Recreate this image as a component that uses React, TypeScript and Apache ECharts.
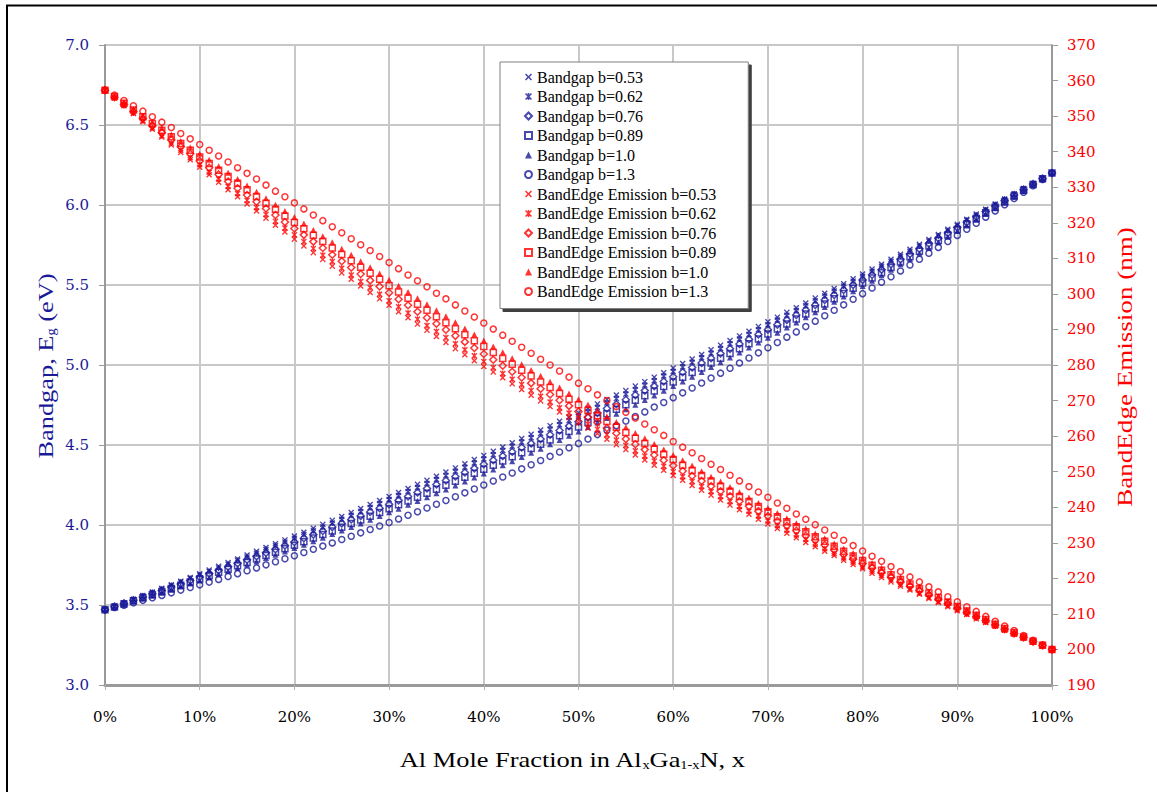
import React, { useEffect, useRef } from "react";
import * as echarts from "echarts";

// Al mole fraction (%)
const xPercent = [
  0, 1, 2, 3, 4, 5, 6, 7, 8, 9, 10, 11, 12, 13, 14, 15, 16, 17, 18, 19, 20,
  21, 22, 23, 24, 25, 26, 27, 28, 29, 30, 31, 32, 33, 34, 35, 36, 37, 38, 39, 40,
  41, 42, 43, 44, 45, 46, 47, 48, 49, 50, 51, 52, 53, 54, 55, 56, 57, 58, 59, 60,
  61, 62, 63, 64, 65, 66, 67, 68, 69, 70, 71, 72, 73, 74, 75, 76, 77, 78, 79, 80,
  81, 82, 83, 84, 85, 86, 87, 88, 89, 90, 91, 92, 93, 94, 95, 96, 97, 98, 99, 100,
];

// Bandgap (eV)
const eg053 = [3.470,3.492,3.514,3.536,3.559,3.581,3.604,3.627,3.649,3.672,
3.695,3.718,3.742,3.765,3.788,3.812,3.836,3.859,3.883,3.907,
3.931,3.955,3.980,4.004,4.029,4.053,4.078,4.103,4.128,4.153,
4.178,4.203,4.228,4.254,4.279,4.305,4.331,4.357,4.383,4.409,
4.435,4.461,4.487,4.514,4.541,4.567,4.594,4.621,4.648,4.675,
4.702,4.730,4.757,4.785,4.813,4.840,4.868,4.896,4.924,4.952,
4.981,5.009,5.038,5.066,5.095,5.124,5.153,5.182,5.211,5.240,
5.270,5.299,5.329,5.358,5.388,5.418,5.448,5.478,5.508,5.539,
5.569,5.600,5.630,5.661,5.692,5.723,5.754,5.785,5.816,5.848,
5.879,5.911,5.943,5.974,6.006,6.038,6.070,6.103,6.135,6.167,6.200];

const eg062 = [3.470,3.491,3.512,3.534,3.555,3.577,3.599,3.621,3.643,3.665,
3.687,3.710,3.732,3.755,3.778,3.800,3.823,3.847,3.870,3.893,
3.917,3.940,3.964,3.988,4.012,4.036,4.061,4.085,4.109,4.134,
4.159,4.184,4.209,4.234,4.259,4.284,4.310,4.336,4.361,4.387,
4.413,4.439,4.466,4.492,4.518,4.545,4.572,4.599,4.626,4.653,
4.680,4.707,4.735,4.762,4.790,4.818,4.846,4.874,4.902,4.931,
4.959,4.988,5.017,5.045,5.074,5.103,5.133,5.162,5.191,5.221,
5.251,5.281,5.311,5.341,5.371,5.401,5.432,5.462,5.493,5.524,
5.555,5.586,5.617,5.648,5.680,5.711,5.743,5.775,5.807,5.839,
5.871,5.904,5.936,5.969,6.001,6.034,6.067,6.100,6.133,6.167,6.200];

const eg076 = [3.470,3.490,3.510,3.530,3.550,3.570,3.591,3.612,3.632,3.653,
3.675,3.696,3.717,3.739,3.761,3.783,3.805,3.827,3.849,3.872,
3.894,3.917,3.940,3.963,3.987,4.010,4.034,4.057,4.081,4.105,
4.129,4.154,4.178,4.203,4.228,4.253,4.278,4.303,4.328,4.354,
4.380,4.405,4.431,4.458,4.484,4.510,4.537,4.564,4.591,4.618,
4.645,4.672,4.700,4.728,4.755,4.783,4.812,4.840,4.868,4.897,
4.926,4.955,4.984,5.013,5.042,5.072,5.101,5.131,5.161,5.191,
5.221,5.252,5.282,5.313,5.344,5.375,5.406,5.438,5.469,5.501,
5.532,5.564,5.596,5.629,5.661,5.694,5.726,5.759,5.792,5.825,
5.859,5.892,5.926,5.959,5.993,6.027,6.062,6.096,6.131,6.165,6.200];

const eg089 = [3.470,3.488,3.507,3.526,3.545,3.564,3.584,3.603,3.623,3.643,
3.663,3.683,3.704,3.724,3.745,3.766,3.787,3.809,3.830,3.852,
3.874,3.896,3.918,3.940,3.963,3.986,4.009,4.032,4.055,4.078,
4.102,4.126,4.150,4.174,4.198,4.223,4.248,4.273,4.298,4.323,
4.348,4.374,4.400,4.426,4.452,4.478,4.505,4.531,4.558,4.585,
4.613,4.640,4.667,4.695,4.723,4.751,4.780,4.808,4.837,4.865,
4.894,4.924,4.953,4.982,5.012,5.042,5.072,5.102,5.133,5.163,
5.194,5.225,5.256,5.287,5.319,5.351,5.382,5.414,5.447,5.479,
5.512,5.544,5.577,5.610,5.644,5.677,5.711,5.744,5.778,5.813,
5.847,5.881,5.916,5.951,5.986,6.021,6.057,6.092,6.128,6.164,6.200];

const eg100 = [3.470,3.487,3.505,3.523,3.541,3.559,3.577,3.596,3.615,3.634,
3.653,3.672,3.692,3.712,3.732,3.752,3.772,3.793,3.814,3.835,
3.856,3.877,3.899,3.921,3.943,3.965,3.987,4.010,4.033,4.056,
4.079,4.102,4.126,4.150,4.174,4.198,4.222,4.247,4.272,4.297,
4.322,4.347,4.373,4.399,4.425,4.451,4.477,4.504,4.531,4.558,
4.585,4.612,4.640,4.668,4.696,4.724,4.752,4.781,4.810,4.839,
4.868,4.897,4.927,4.957,4.987,5.017,5.047,5.078,5.109,5.140,
5.171,5.202,5.234,5.266,5.298,5.330,5.362,5.395,5.428,5.461,
5.494,5.527,5.561,5.595,5.629,5.663,5.697,5.732,5.767,5.802,
5.837,5.872,5.908,5.944,5.980,6.016,6.052,6.089,6.126,6.163,6.200];

const eg130 = [3.470,3.484,3.499,3.514,3.529,3.545,3.560,3.576,3.593,3.609,
3.626,3.643,3.660,3.678,3.696,3.714,3.732,3.751,3.770,3.789,
3.808,3.828,3.848,3.868,3.888,3.909,3.930,3.951,3.972,3.994,
4.016,4.038,4.061,4.083,4.106,4.130,4.153,4.177,4.201,4.225,
4.250,4.275,4.300,4.325,4.351,4.377,4.403,4.429,4.456,4.483,
4.510,4.537,4.565,4.593,4.621,4.650,4.678,4.707,4.737,4.766,
4.796,4.826,4.856,4.887,4.918,4.949,4.980,5.012,5.044,5.076,
5.108,5.141,5.174,5.207,5.240,5.274,5.308,5.342,5.376,5.411,
5.446,5.481,5.517,5.552,5.588,5.625,5.661,5.698,5.735,5.772,
5.810,5.848,5.886,5.924,5.963,6.002,6.041,6.080,6.120,6.160,6.200];

// Band-edge emission (nm)
const em053 = [357.3,355.1,352.9,350.7,348.4,346.3,344.1,341.9,339.8,337.7,
335.6,333.5,331.4,329.3,327.3,325.3,323.3,321.3,319.3,317.4,
315.4,313.5,311.6,309.7,307.8,305.9,304.1,302.2,300.4,298.6,
296.8,295.0,293.3,291.5,289.8,288.0,286.3,284.6,282.9,281.2,
279.6,278.0,276.4,274.7,273.1,271.5,269.9,268.3,266.8,265.2,
263.7,262.2,260.7,259.1,257.6,256.2,254.7,253.3,251.8,250.4,
248.9,247.6,246.1,244.8,243.4,242.0,240.6,239.3,238.0,236.6,
235.3,234.0,232.7,231.4,230.1,228.9,227.6,226.4,225.1,223.9,
222.7,221.4,220.2,219.0,217.8,216.7,215.5,214.3,213.2,212.0,
210.9,209.8,208.6,207.6,206.5,205.4,204.3,203.2,202.1,201.1,200.0];

const em062 = [357.3,355.2,353.1,350.9,348.8,346.7,344.5,342.4,340.4,338.3,
336.3,334.2,332.3,330.2,328.2,326.3,324.3,322.3,320.4,318.5,
316.6,314.7,312.8,310.9,309.1,307.2,305.3,303.5,301.8,299.9,
298.1,296.4,294.6,292.9,291.1,289.4,287.7,286.0,284.3,282.6,
281.0,279.3,277.6,276.0,274.5,272.8,271.2,269.6,268.0,266.5,
265.0,263.4,261.9,260.4,258.9,257.4,255.9,254.4,253.0,251.5,
250.0,248.6,247.2,245.8,244.4,243.0,241.6,240.2,238.9,237.5,
236.1,234.8,233.5,232.2,230.9,229.6,228.3,227.0,225.7,224.5,
223.2,222.0,220.8,219.5,218.3,217.1,215.9,214.7,213.5,212.4,
211.2,210.0,208.9,207.7,206.6,205.5,204.4,203.3,202.2,201.1,200.0];

const em076 = [357.3,355.3,353.3,351.3,349.3,347.3,345.3,343.3,341.4,339.4,
337.4,335.5,333.6,331.6,329.7,327.8,325.9,324.0,322.2,320.2,
318.4,316.6,314.7,312.9,311.0,309.2,307.4,305.6,303.8,302.1,
300.3,298.5,296.8,295.0,293.3,291.6,289.9,288.2,286.5,284.8,
283.1,281.5,279.8,278.1,276.5,274.9,273.3,271.7,270.1,268.5,
266.9,265.4,263.8,262.3,260.8,259.2,257.7,256.2,254.7,253.2,
251.7,250.2,248.8,247.4,245.9,244.5,243.1,241.7,240.3,238.9,
237.5,236.1,234.8,233.4,232.0,230.7,229.4,228.0,226.7,225.4,
224.1,222.9,221.6,220.3,219.0,217.8,216.6,215.3,214.1,212.9,
211.6,210.4,209.2,208.1,206.9,205.7,204.5,203.4,202.2,201.1,200.0];

const em089 = [357.3,355.5,353.6,351.7,349.8,347.9,346.0,344.2,342.3,340.4,
338.5,336.7,334.8,333.0,331.1,329.3,327.4,325.5,323.8,321.9,
320.1,318.3,316.5,314.7,312.9,311.1,309.3,307.5,305.8,304.1,
302.3,300.5,298.8,297.1,295.4,293.6,291.9,290.2,288.5,286.8,
285.2,283.5,281.8,280.2,278.5,276.9,275.2,273.7,272.0,270.4,
268.8,267.2,265.7,264.1,262.5,261.0,259.4,257.9,256.4,254.9,
253.4,251.8,250.3,248.9,247.4,245.9,244.5,243.0,241.6,240.2,
238.7,237.3,235.9,234.5,233.1,231.7,230.4,229.0,227.6,226.3,
225.0,223.7,222.3,221.0,219.7,218.4,217.1,215.9,214.6,213.3,
212.1,210.8,209.6,208.4,207.1,205.9,204.7,203.5,202.3,201.2,200.0];

const em100 = [357.3,355.6,353.8,352.0,350.2,348.4,346.7,344.8,343.0,341.2,
339.4,337.7,335.9,334.1,332.3,330.5,328.7,326.9,325.1,323.3,
321.6,319.8,318.0,316.2,314.5,312.7,311.0,309.2,307.5,305.7,
304.0,302.3,300.5,298.8,297.1,295.4,293.7,292.0,290.3,288.6,
286.9,285.2,283.6,281.9,280.2,278.6,277.0,275.3,273.7,272.0,
270.4,268.9,267.2,265.6,264.0,262.5,260.9,259.4,257.8,256.2,
254.7,253.2,251.7,250.1,248.6,247.2,245.7,244.2,242.7,241.2,
239.8,238.4,236.9,235.5,234.0,232.6,231.3,229.8,228.4,227.1,
225.7,224.3,223.0,221.6,220.3,219.0,217.7,216.3,215.0,213.7,
212.4,211.2,209.9,208.6,207.4,206.1,204.9,203.6,202.4,201.2,200.0];

const em130 = [357.3,355.9,354.4,352.9,351.4,349.8,348.3,346.8,345.1,343.6,
342.0,340.4,338.8,337.1,335.5,333.9,332.3,330.6,328.9,327.3,
325.6,323.9,322.2,320.6,318.9,317.2,315.5,313.8,312.2,310.5,
308.8,307.1,305.3,303.7,302.0,300.2,298.6,296.9,295.2,293.5,
291.8,290.1,288.4,286.7,285.0,283.3,281.6,280.0,278.3,276.6,
274.9,273.3,271.6,270.0,268.3,266.7,265.1,263.4,261.8,260.2,
258.5,256.9,255.3,253.7,252.1,250.6,249.0,247.4,245.8,244.3,
242.8,241.2,239.7,238.1,236.6,235.1,233.6,232.1,230.7,229.2,
227.7,226.2,224.8,223.3,221.9,220.4,219.0,217.6,216.2,214.8,
213.4,212.0,210.7,209.3,207.9,206.6,205.3,203.9,202.6,201.3,200.0];

const bowingLabels = ["0.53", "0.62", "0.76", "0.89", "1.0", "1.3"];
const bandgapSeries = [eg053, eg062, eg076, eg089, eg100, eg130];
const emissionSeries = [em053, em062, em076, em089, em100, em130];

const BLUE = "#1a1a98";
const RED = "#ff0000";
const SERIF = "Liberation Serif";
const TICKFONT = "DejaVu Serif";

const X_PATH =
  "path://M0,1.6L1.6,0L5,3.4L8.4,0L10,1.6L6.6,5L10,8.4L8.4,10L5,6.6L1.6,10L0,8.4L3.4,5Z";
const AST_PATH =
  "path://M0,1.6L1.6,0L5,3.4L8.4,0L10,1.6L6.6,5L10,8.4L8.4,10L5,6.6L1.6,10L0,8.4L3.4,5ZM3.9,0L6.1,0L6.1,10L3.9,10Z";

const markerStyles = [
  { symbol: X_PATH, size: 6, hollow: false },
  { symbol: AST_PATH, size: 6, hollow: false },
  { symbol: "diamond", size: 7, hollow: true },
  { symbol: "rect", size: 6, hollow: true },
  { symbol: "triangle", size: 6, hollow: false },
  { symbol: "circle", size: 6, hollow: true },
];

function makeSeries(name: string, ys: number[], color: string, axis: number, m: any) {
  return {
    type: "scatter",
    name,
    yAxisIndex: axis,
    symbol: m.symbol,
    symbolSize: m.size,
    itemStyle: m.hollow
      ? { color: "rgba(255,255,255,0)", borderColor: color, borderWidth: 1.5 }
      : { color },
    data: xPercent.map((x, i) => [x, ys[i]]),
    silent: true,
    emphasis: { disabled: true },
  };
}

export default function App() {
  const ref = useRef<HTMLDivElement>(null);

  useEffect(() => {
    if (!ref.current) return;
    const chart = echarts.init(ref.current, undefined, { renderer: "svg" });

    const series: any[] = [];
    const names: string[] = [];
    bowingLabels.forEach((b, i) => {
      const n = `Bandgap b=${b}`;
      names.push(n);
      series.push(makeSeries(n, bandgapSeries[i], BLUE, 0, markerStyles[i]));
    });
    bowingLabels.forEach((b, i) => {
      const n = `BandEdge Emission b=${b}`;
      names.push(n);
      series.push(makeSeries(n, emissionSeries[i], RED, 1, markerStyles[i]));
    });

    chart.setOption({
      animation: false,
      backgroundColor: "#ffffff",
      textStyle: { fontFamily: SERIF },
      grid: { left: 105, right: 105, top: 45, bottom: 107, containLabel: false },
      xAxis: {
        type: "value",
        min: 0,
        max: 100,
        interval: 10,
        axisLine: { show: true, onZero: false, lineStyle: { color: "#9a9a9a", width: 3 } },
        axisTick: { show: true, length: 5, lineStyle: { color: "#b0b0b0" } },
        axisLabel: {
          formatter: "{value}%",
          color: "#000",
          fontFamily: TICKFONT,
          fontSize: 15,
          margin: 24,
        },
        splitLine: { show: true, lineStyle: { color: "#c8c8c8", width: 2 } },
      },
      yAxis: [
        {
          type: "value",
          min: 3,
          max: 7,
          interval: 0.5,
          position: "left",
          axisLine: { show: true, lineStyle: { color: "#9a9a9a", width: 2 } },
          axisTick: { show: true, length: 6, lineStyle: { color: "#9a9a9a" } },
          axisLabel: {
            color: BLUE,
            fontFamily: TICKFONT,
            fontSize: 15,
            margin: 16,
            formatter: (v: number) => v.toFixed(1),
          },
          splitLine: { show: true, lineStyle: { color: "#c8c8c8", width: 2 } },
        },
        {
          type: "value",
          min: 190,
          max: 370,
          interval: 10,
          position: "right",
          axisLine: { show: true, lineStyle: { color: "#8a8a8a", width: 1.5 } },
          axisTick: { show: true, length: 6, lineStyle: { color: "#9a9a9a" } },
          axisLabel: {
            color: RED,
            fontFamily: TICKFONT,
            fontSize: 15,
            margin: 15,
          },
          splitLine: { show: false },
        },
      ],
      legend: {
        orient: "vertical",
        left: 500,
        top: 62,
        data: names,
        selectedMode: false,
        backgroundColor: "#ffffff",
        borderColor: "#808080",
        borderWidth: 1,
        shadowColor: "#404040",
        shadowOffsetX: 3,
        shadowOffsetY: 3,
        shadowBlur: 0,
        padding: [7, 32, 9, 24],
        itemGap: 3.5,
        itemWidth: 7,
        itemHeight: 7,
        textStyle: { fontFamily: SERIF, fontSize: 16, color: "#000" },
      },
      graphic: [
        {
          type: "rect",
          silent: true,
          z: 100,
          shape: { x: 7, y: 5.5, width: 1300, height: 900 },
          style: { fill: "none", stroke: "#000", lineWidth: 2 },
        },
        {
          type: "text",
          x: 572,
          y: 759,
          scaleX: 1.2,
          silent: true,
          style: {
            text: "{a|Al Mole Fraction in Al}{s|x}{a|Ga}{s|1-x}{a|N, x}",
            align: "center",
            verticalAlign: "middle",
            rich: {
              a: { fontFamily: SERIF, fontSize: 22, fill: "#000", lineHeight: 24 },
              s: { fontFamily: SERIF, fontSize: 12, fill: "#000", lineHeight: 8, verticalAlign: "bottom" },
            },
          },
        },
        {
          type: "text",
          x: 45,
          y: 366,
          rotation: Math.PI / 2,
          scaleX: 1.2,
          silent: true,
          style: {
            text: "{a|Bandgap, E}{s|g}{a| (eV)}",
            align: "center",
            verticalAlign: "middle",
            rich: {
              a: { fontFamily: SERIF, fontSize: 22, fill: BLUE, lineHeight: 24 },
              s: { fontFamily: SERIF, fontSize: 12, fill: BLUE, lineHeight: 8, verticalAlign: "bottom" },
            },
          },
        },
        {
          type: "text",
          x: 1124,
          y: 367,
          rotation: Math.PI / 2,
          scaleX: 1.23,
          silent: true,
          style: {
            text: "BandEdge Emission (nm)",
            align: "center",
            verticalAlign: "middle",
            fontFamily: SERIF,
            fontSize: 22,
            fill: RED,
          },
        },
      ],
      series,
    });

    return () => chart.dispose();
  }, []);

  return (
    <div
      ref={ref}
      style={{ position: "fixed", left: 0, top: 0, width: 1157, height: 792, background: "#fff" }}
    />
  );
}
